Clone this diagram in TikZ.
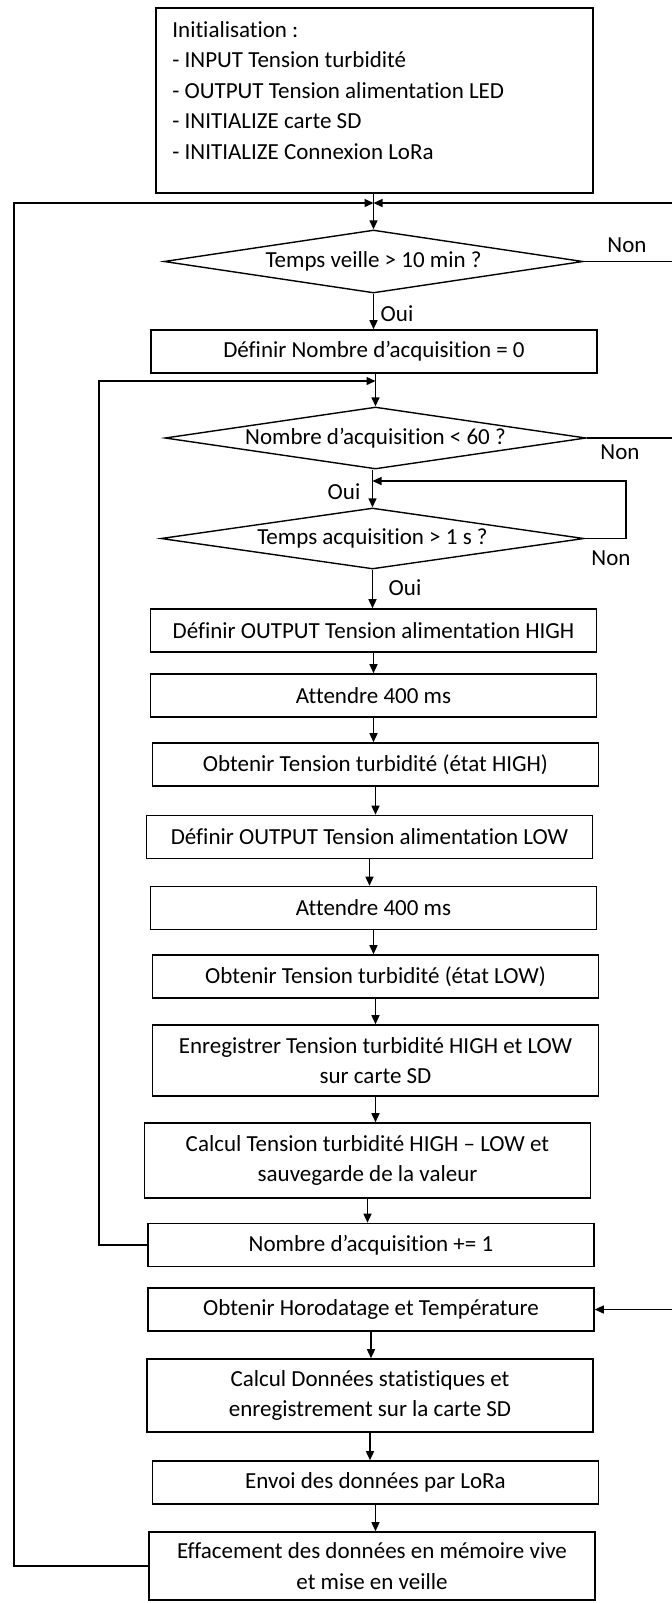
\documentclass[tikz,border=0pt]{standalone}
\usepackage{fontspec}
\setmainfont{Carlito}[Ligatures={NoCommon}]
\usetikzlibrary{shapes.geometric,arrows.meta}
\begin{document}
\begin{tikzpicture}[x=0.5pt,y=-0.5pt,
  box/.style={draw,line width=0.8pt,minimum width=223pt,minimum height=21.5pt,inner sep=0pt,align=center},
  test/.style={draw,diamond,line width=0.7pt,aspect=6.8,minimum width=210pt,minimum height=31pt,inner sep=0pt},
  flow/.style={line width=0.7pt,-{Triangle[length=4.5pt,width=4pt]}},
  lbl/.style={inner sep=0pt}]
\fontsize{11.5pt}{15.25pt}\selectfont
\useasboundingbox (0,0) rectangle (672,1603);
\node[box,minimum width=218.5pt,minimum height=92.5pt] (init) at (374.5,100.5) {};
\node[anchor=north west,align=left,inner sep=0pt] (inittxt) at (172,21) {Initialisation :\\- INPUT Tension turbidité\\- OUTPUT Tension alimentation LED\\- INITIALIZE carte SD\\- INITIALIZE Connexion LoRa};
\node[test,minimum width=209.5pt,minimum height=31.5pt] (veille) at (373.5,261.5) {Temps veille > 10 min ?};
\node[box] (nb0) at (374,351.5) {Définir Nombre d’acquisition = 0};
\node[test,minimum width=210.5pt] (nbmax) at (375.5,438) {Nombre d’acquisition < 60 ?};
\node[test,minimum width=211.5pt,minimum height=30.5pt] (tacq) at (372.5,538.5) {Temps acquisition > 1 s ?};
\node[box] (ledhigh) at (373.5,630.5) {Définir OUTPUT Tension alimentation HIGH};
\node[box] (wait1) at (373.5,695.5) {Attendre 400 ms};
\node[box] (vhigh) at (375.5,764.5) {Obtenir Tension turbidité (état HIGH)};
\node[box] (ledlow) at (369.5,837) {Définir OUTPUT Tension alimentation LOW};
\node[box] (wait2) at (373.5,908) {Attendre 400 ms};
\node[box] (vlow) at (375.5,976.5) {Obtenir Tension turbidité (état LOW)};
\node[box,minimum height=35.5pt] (save) at (375.5,1060.5) {Enregistrer Tension turbidité HIGH et LOW\\sur carte SD};
\node[box,minimum height=37.5pt] (diff) at (367.5,1160.5) {Calcul Tension turbidité HIGH – LOW et\\sauvegarde de la valeur};
\node[box] (nbinc) at (371,1245) {Nombre d’acquisition += 1};
\node[box] (horo) at (371,1309.5) {Obtenir Horodatage et Température};
\node[box,minimum height=36.5pt] (stats) at (370,1395.5) {Calcul Données statistiques et\\enregistrement sur la carte SD};
\node[box] (lora) at (375.5,1482.5) {Envoi des données par LoRa};
\node[box,minimum height=34pt] (sleep) at (372,1566) {Effacement des données en mémoire vive\\et mise en veille};
\node[lbl] (non1) at (627,245) {Non};
\node[lbl] (oui1) at (397,314) {Oui};
\node[lbl] (non2) at (620,452) {Non};
\node[lbl] (oui2) at (344,492) {Oui};
\node[lbl] (non3) at (611,558) {Non};
\node[lbl] (oui3) at (405,588) {Oui};
\coordinate (m1) at (veille.north |- 0,203);
\coordinate (m2) at (nbmax.north |- 0,381);
\coordinate (m3) at (tacq.north |- 0,481);
\coordinate (railL) at (14,203);
\coordinate (railI) at (99,381);
\coordinate (railS) at (626,481);
\coordinate (railR) at (690,0);
\draw[flow] (veille.north |- init.south) -- (veille.north);
\draw[flow] (sleep.west) -| (railL) -- (m1);
\draw[flow] (veille.east) -- (railR |- veille.east) |- (m1);
\draw[flow] (veille.south) -- (veille.south |- nb0.north);
\draw[flow] (nbmax.north |- nb0.south) -- (nbmax.north);
\draw[flow] (nbinc.west) -| (railI) -- (m2);
\draw[flow] (nbmax.east) -| (railR |- horo.east) -- (horo.east);
\draw[flow] (tacq.north |- nbmax.south) -- (tacq.north);
\draw[flow] (tacq.east) -| (railS) -- (m3);
\draw[flow] (tacq.south) -- (tacq.south |- ledhigh.north);
\foreach \a/\b in {ledhigh/wait1,wait1/vhigh,vhigh/ledlow,ledlow/wait2,wait2/vlow,vlow/save,save/diff,diff/nbinc,horo/stats,stats/lora,lora/sleep}
  \draw[flow] (\a.south) -- (\a.south |- \b.north);
\end{tikzpicture}
\end{document}
